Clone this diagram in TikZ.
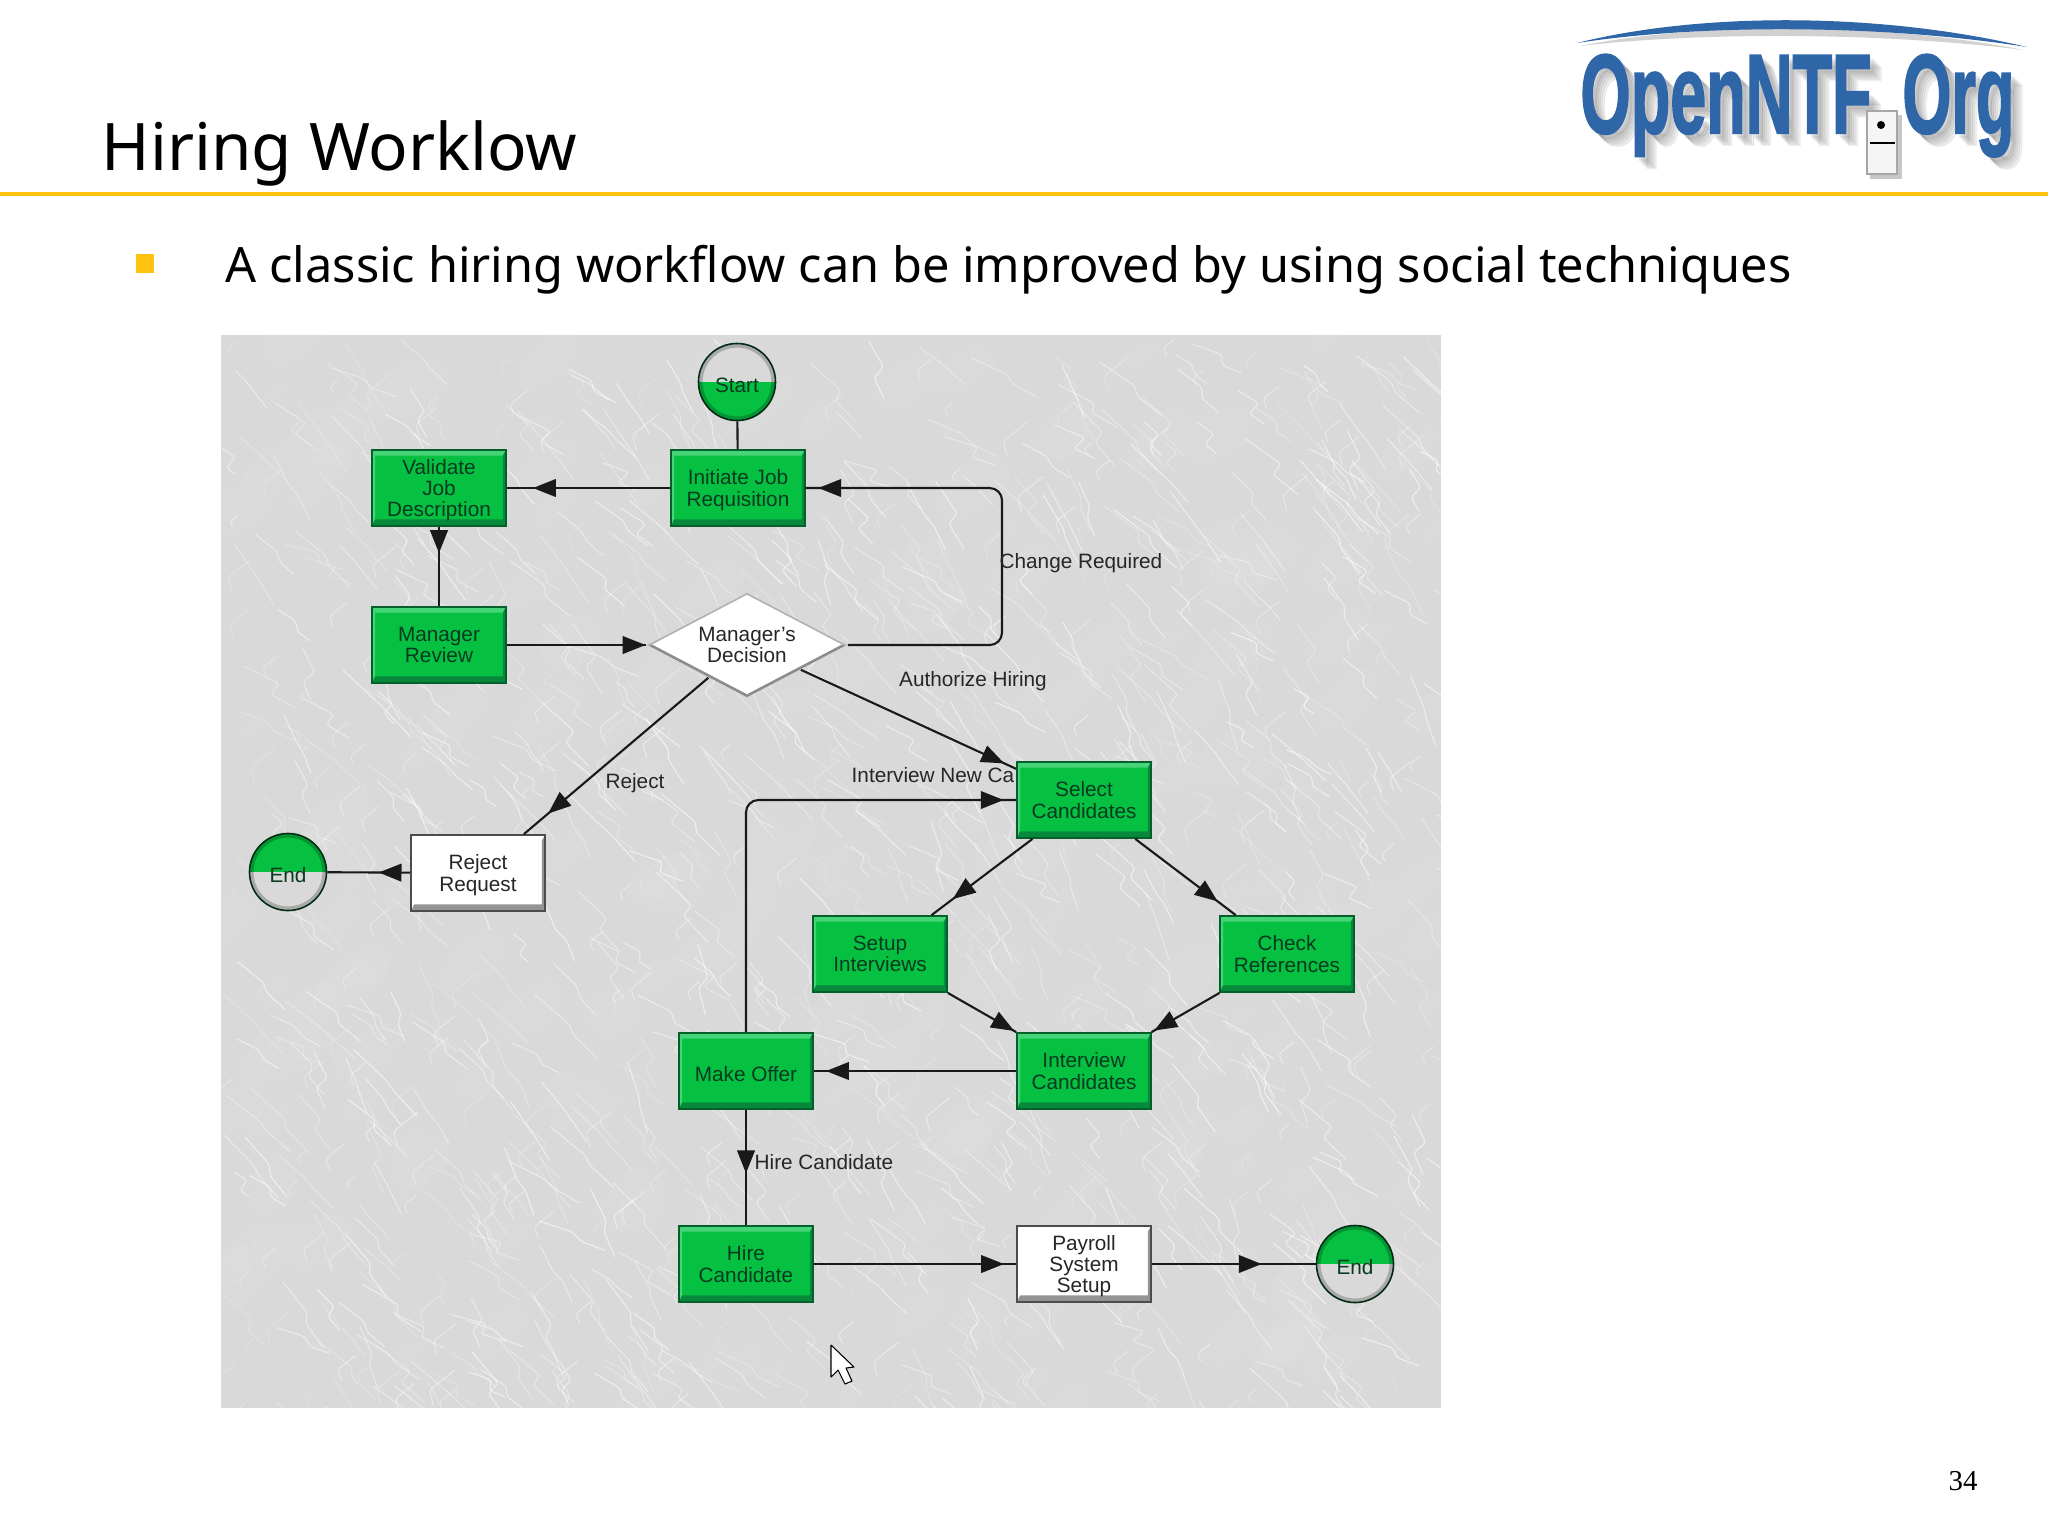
\documentclass[tikz,border=0pt]{standalone}
\usepackage{fontspec}
\setmainfont{Liberation Sans}
\newfontfamily\slidefont{Noto Sans}
\newfontfamily\pagefont{Liberation Serif}
\newfontfamily\logofont[BoldFeatures={FakeBold=2}]{Liberation Sans}
\usetikzlibrary{arrows.meta,shapes.geometric,decorations.markings}
\definecolor{facegreen}{HTML}{06C042}
\definecolor{lightgreen}{HTML}{45D477}
\definecolor{darkgreen}{HTML}{06893A}
\definecolor{rimgreen}{HTML}{04602A}
\definecolor{labelgreen}{HTML}{083A20}
\definecolor{paneltone}{HTML}{D9D9D9}
\definecolor{ruleyellow}{HTML}{FFC20E}
\definecolor{logoblue}{HTML}{2E66A8}
\newcommand{\bevel}[2]{%
  \fill[#1] (path picture bounding box.north west) -- (path picture bounding box.north east)
    -- ([xshift=-.9pt,yshift=-1.6pt]path picture bounding box.north east)
    -- ([xshift=.9pt,yshift=-1.6pt]path picture bounding box.north west)
    -- ([xshift=.9pt,yshift=1.9pt]path picture bounding box.south west)
    -- (path picture bounding box.south west) -- cycle;
  \fill[#2] (path picture bounding box.south west) -- (path picture bounding box.south east)
    -- (path picture bounding box.north east)
    -- ([xshift=-.9pt,yshift=-1.6pt]path picture bounding box.north east)
    -- ([xshift=-.9pt,yshift=1.9pt]path picture bounding box.south east)
    -- ([xshift=.9pt,yshift=1.9pt]path picture bounding box.south west) -- cycle;}
\tikzset{
  flowtext/.style={font=\fontsize{5.9}{6.1}\selectfont,align=center,inner sep=0pt,text depth=0pt,execute at begin node={\rule{0pt}{6.2pt}}},
  greenbox/.style={flowtext,rectangle,draw=rimgreen,line width=.5pt,fill=facegreen,text=labelgreen,
    minimum width=1.34cm,minimum height=.76cm,path picture={\bevel{lightgreen}{darkgreen}}},
  whitebox/.style={flowtext,rectangle,draw=black!70,line width=.5pt,fill=white,text=black!85,
    minimum width=1.34cm,minimum height=.76cm,path picture={\bevel{white}{black!42}}},
  decisionbox/.style={flowtext,diamond,aspect=1.9,fill=white,text=black!85,minimum width=2cm,minimum height=1.05cm,
    path picture={\draw[black!45,line width=1.5pt] (path picture bounding box.west) -- (path picture bounding box.south) -- (path picture bounding box.east);
      \draw[black!30,line width=1pt] (path picture bounding box.west) -- (path picture bounding box.north) -- (path picture bounding box.east);}},
  startend/.style={flowtext,ellipse,draw=black!55!rimgreen,line width=.45pt,minimum width=.77cm,minimum height=.77cm,text=labelgreen,
    path picture={\fill[#1] (path picture bounding box.west) rectangle (path picture bounding box.north east);
      \draw[black,opacity=.22,line width=1.2pt] (path picture bounding box.center) ellipse [x radius=.365cm,y radius=.365cm];}},
  link/.style={draw=black!90,line width=.6pt},
  midtip/.style={link,postaction={decorate},decoration={markings,mark=at position #1 with {\arrow{Triangle[length=6.5pt,width=5pt]}}}},
  linktext/.style={font=\fontsize{5.9}{6}\selectfont,text=black!85,inner sep=0pt},
}
\begin{document}
\begin{tikzpicture}[x=0.01cm,y=-0.01cm]
\useasboundingbox (0,0) rectangle (2048,1535);
\fill[white] (0,0) rectangle (2048,1535);
% slide furniture
\node[anchor=base west,inner sep=0pt,font=\slidefont\fontsize{18.65}{20}\selectfont] (title) at (101,170) {Hiring Worklow};
\draw[ruleyellow,line width=1pt] (0,194) -- (2048,194);
\fill[ruleyellow] (136,254) rectangle (154,273);
\node[anchor=base west,inner sep=0pt,font=\slidefont\fontsize{13.85}{16}\selectfont] (lead) at (225,282) {A classic hiring workflow can be improved by using social techniques};
\node[font=\pagefont\fontsize{8.2}{9}\selectfont,inner sep=0pt] (pageno) at (1963,1481) {34};
% logo
\fill[black!18] (1580,46) .. controls (1700,22) and (1880,22) .. (2024,50) .. controls (1880,32) and (1700,32) .. (1580,46) -- cycle;
\fill[logoblue] (1577,43) .. controls (1700,12) and (1880,12) .. (2027,47) .. controls (1880,24) and (1700,24) .. (1577,43) -- cycle;
\foreach \off in {4,6,8,10,12} {
  \node[anchor=base west,inner sep=0pt,xscale=.575,transform shape,text=black,opacity=.05,font=\logofont\bfseries\fontsize{32}{32}\selectfont] at (1580+\off,133+\off) {OpenNTF};
  \node[anchor=base west,inner sep=0pt,xscale=.56,transform shape,text=black,opacity=.05,font=\logofont\bfseries\fontsize{32}{32}\selectfont] at (1902+\off,133+\off) {Org};
}
\node[anchor=base west,inner sep=0pt,xscale=.575,transform shape,text=logoblue,font=\logofont\bfseries\fontsize{32}{32}\selectfont] (logoa) at (1580,133) {OpenNTF};
\node[anchor=base west,inner sep=0pt,xscale=.56,transform shape,text=logoblue,font=\logofont\bfseries\fontsize{32}{32}\selectfont] (logob) at (1902,133) {Org};
\fill[black!22] (1870,115) rectangle (1902,179);
\draw[black!35,line width=.7pt,fill=black!4] (1867,111) rectangle (1897,174);
\fill[black] (1881,125) circle [radius=4];
\draw[black,line width=.7pt] (1870,143) -- (1895,143);
% panel with marble veins
\fill[paneltone] (221,335) rectangle (1441,1408);
\begin{scope}
\clip (221,335) rectangle (1441,1408);
\pgfmathsetseed{34}
\foreach \i in {1,...,220} {
  \pgfmathsetmacro\vx{221+rnd*1220}
  \pgfmathsetmacro\vy{335+rnd*1073}
  \pgfmathsetmacro\vr{15+rnd*30}
  \fill[white,opacity=.05] (\vx,\vy) ellipse [x radius=\vr,y radius=\vr*.6,rotate=40];
}
\foreach \i in {1,...,850} {
  \pgfmathsetmacro\vx{221+rnd*1220}
  \pgfmathsetmacro\vy{335+rnd*1073}
  \pgfmathsetmacro\vu{10+rnd*26}
  \pgfmathsetmacro\vv{8+rnd*26}
  \pgfmathsetmacro\vw{rnd*24-12}
  \pgfmathsetmacro\vop{.2+rnd*.4}
  \draw[white,opacity=\vop,line width=.3pt,line join=round,rounded corners=1pt] (\vx,\vy) -- ++(\vu,\vv) -- ++(\vw,10) -- ++(\vu*.7,\vv*.8);
}
\foreach \i in {1,...,300} {
  \pgfmathsetmacro\vx{221+rnd*1220}
  \pgfmathsetmacro\vy{335+rnd*1073}
  \pgfmathsetmacro\vu{8+rnd*18}
  \pgfmathsetmacro\vop{.15+rnd*.3}
  \draw[white,opacity=\vop,line width=.3pt,rounded corners=1pt] (\vx,\vy) -- ++(-\vu,\vu*.8) -- ++(4,\vu*.6);
}
\end{scope}
% nodes
\node[linktext,anchor=west] (lbnew) at (851,775) {Interview New Ca};
\node[startend=paneltone,fill=facegreen] (start) at (737,382) {Start};
\node[greenbox] (init) at (738,488) {Initiate Job\\Requisition};
\node[greenbox] (valid) at (439,488) {Validate\\Job\\Description};
\node[greenbox] (review) at (439,645) {Manager\\Review};
\node[decisionbox] (decide) at (747,645) {Manager's\\Decision};
\node[greenbox] (select) at (1084,800) {Select\\Candidates};
\node[whitebox] (reject) at (478,873) {Reject\\Request};
\node[startend=facegreen,fill=paneltone] (endleft) at (288,872) {End};
\node[greenbox] (setup) at (880,954) {Setup\\Interviews};
\node[greenbox] (check) at (1287,954) {Check\\References};
\node[greenbox] (interview) at (1084,1071) {Interview\\Candidates};
\node[greenbox] (offer) at (746,1071) {Make Offer};
\node[greenbox] (hire) at (746,1264) {Hire\\Candidate};
\node[whitebox] (payroll) at (1084,1264) {Payroll\\System\\Setup};
\node[startend=facegreen,fill=paneltone] (endright) at (1355,1264) {End};
\coordinate (chga) at (1002,645);
\coordinate (chgb) at (1002,488);
\coordinate (newa) at (746,800);
% connectors
\draw[link] (start) -- (init);
\draw[midtip=.84] (init) -- (valid);
\draw[midtip=.33] (valid) -- (review);
\draw[midtip=.995] (review) -- (decide);
\draw[midtip=.975,rounded corners=3.5pt] (decide) -- (chga) -- (chgb) -- (init);
\draw[midtip=.945] (decide) -- (select);
\draw[midtip=.87] (decide) -- (reject);
\draw[midtip=.38] (reject) -- (endleft);
\draw[midtip=.79] (select) -- (setup);
\draw[midtip=.82] (select) -- (check);
\draw[midtip=.97] (setup) -- (interview);
\draw[midtip=.96] (check) -- (interview);
\draw[midtip=.94] (interview) -- (offer);
\draw[midtip=.975,rounded corners=3.5pt] (offer) -- (newa) -- (select);
\draw[midtip=.55] (offer) -- (hire);
\draw[midtip=.94] (hire) -- (payroll);
\draw[midtip=.67] (payroll) -- (endright);
% labels
\node[linktext] (lbchg) at (1081,563) {Change Required};
\node[linktext] (lbauth) at (973,681) {Authorize Hiring};
\node[linktext] (lbrej) at (635,783) {Reject};
\node[linktext,anchor=west] (lbhire) at (754,1162) {Hire Candidate};
% pointer
\draw[black,fill=white,line width=.3pt,line join=round] (831,1345) -- (831,1377) -- (838,1370) -- (845,1384) -- (852,1381) -- (846,1368) -- (854,1367) -- cycle;
\end{tikzpicture}
\end{document}
